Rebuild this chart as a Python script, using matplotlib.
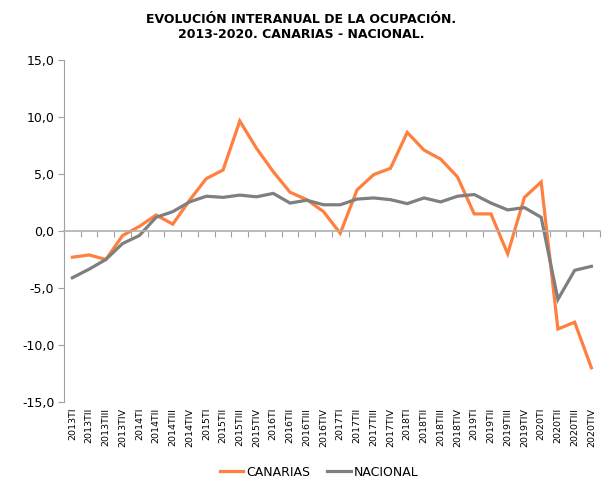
import numpy as np
import matplotlib.pyplot as plt
from matplotlib.ticker import FuncFormatter, FixedLocator

quarters = ['TI', 'TII', 'TIII', 'TIV']
labels = [f'{y}{q}' for y in range(2013, 2021) for q in quarters]

canarias = [-2.3, -2.1, -2.5, -0.4, 0.4, 1.4, 0.6, 2.7, 4.6, 5.35, 9.65, 7.25,
            5.2, 3.4, 2.75, 1.7, -0.2, 3.6, 4.95, 5.5, 8.65, 7.1, 6.3, 4.75,
            1.5, 1.5, -2.0, 2.95, 4.3, -8.6, -8.0, -12.0]
nacional = [-4.1, -3.35, -2.5, -1.1, -0.4, 1.2, 1.7, 2.55, 3.05, 2.95, 3.15, 3.0,
            3.3, 2.45, 2.7, 2.3, 2.3, 2.8, 2.9, 2.75, 2.4, 2.9, 2.55, 3.05,
            3.2, 2.45, 1.85, 2.05, 1.2, -6.0, -3.45, -3.1]

naranja = '#FF7F3F'
gris = '#7F7F7F'

fig = plt.figure(figsize=(6.02, 4.79), dpi=100)
ax = fig.add_axes([0.1063, 0.1608, 0.89, 0.7139])

x = np.arange(len(labels))
ax.plot(x, canarias, color=naranja, lw=2.3, label='CANARIAS', solid_joinstyle='miter')
ax.plot(x, nacional, color=gris, lw=2.3, label='NACIONAL', solid_joinstyle='miter')

ax.set_xlim(-0.5, len(labels) - 0.5)
ax.set_ylim(-15, 15)
ax.set_yticks(np.arange(-15, 16, 5))
ax.yaxis.set_major_formatter(FuncFormatter(lambda v, p: f'{v:.1f}'.replace('.', ',')))
ax.tick_params(axis='y', labelsize=9, length=4, color='#A0A0A0', pad=3)

for s in ['top', 'right']:
    ax.spines[s].set_visible(False)
ax.spines['left'].set_color('#A0A0A0')
ax.spines['bottom'].set_position(('data', 0))
ax.spines['bottom'].set_color('#B0B0B0')
ax.spines['bottom'].set_linewidth(1.2)
ax.xaxis.set_major_locator(FixedLocator(np.arange(-0.5, len(labels), 1.0)))
ax.tick_params(axis='x', length=4, color='#A0A0A0', labelbottom=False)

sec = ax.secondary_xaxis(0)
sec.set_xticks(x)
sec.set_xticklabels(labels, rotation=90, fontsize=6.8)
sec.tick_params(length=0, pad=4)
sec.spines['bottom'].set_visible(False)

fig.text(0.5, 0.972, 'EVOLUCIÓN INTERANUAL DE LA OCUPACIÓN.\n2013-2020. CANARIAS - NACIONAL.',
         ha='center', va='top', fontsize=9, fontweight='bold', linespacing=1.2)

fig.legend(loc='center', bbox_to_anchor=(0.53, 0.0146), ncol=2, frameon=False,
           fontsize=9, handlelength=1.9, handletextpad=0.25, columnspacing=1.3,
           borderpad=0)

fig.savefig('out.png', dpi=100)
